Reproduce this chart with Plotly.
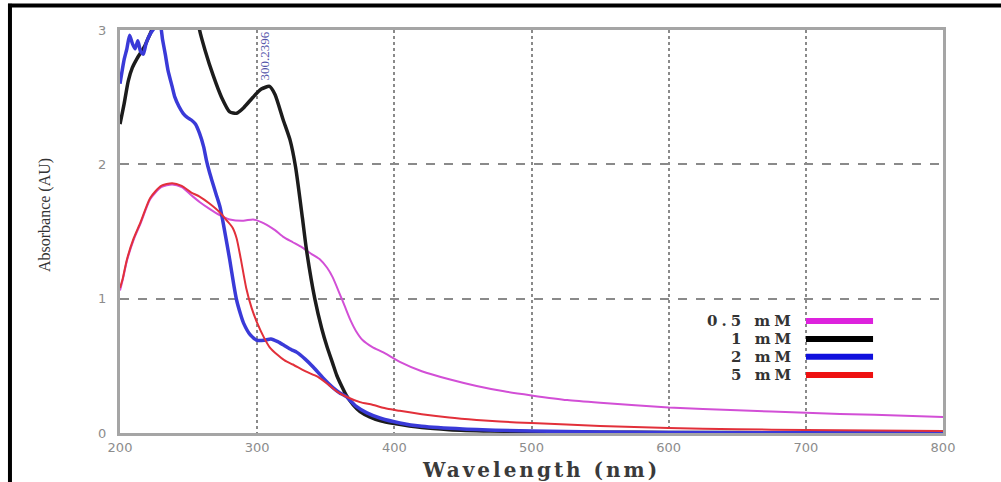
import plotly.graph_objects as go

# ---- data ----
series_names = ["0.5 mM", "1 mM", "2 mM", "5 mM"]

x_05 = [200, 202, 205, 210, 215, 222, 230, 238, 245, 252, 258, 265, 273, 280, 290, 297, 303, 307, 313, 319,
        326, 333, 340, 346, 351, 355, 360, 364, 368, 372, 377, 384, 392, 404, 420, 440, 460, 480, 500, 526,
        550, 600, 650, 700, 750, 800]
y_05 = [1.06, 1.14, 1.28, 1.44, 1.56, 1.74, 1.83, 1.85, 1.83, 1.77, 1.72, 1.67, 1.62, 1.59, 1.58, 1.59, 1.57,
        1.55, 1.51, 1.46, 1.42, 1.38, 1.33, 1.29, 1.23, 1.16, 1.04, 0.94, 0.84, 0.76, 0.69, 0.64, 0.60, 0.53,
        0.46, 0.40, 0.35, 0.31, 0.28, 0.245, 0.225, 0.19, 0.17, 0.15, 0.135, 0.12]

x_1 = [200, 203, 206, 209, 212, 215, 218, 221, 224, 228, 235, 245, 255, 258, 262, 268, 274, 280, 285, 290,
       297, 303, 309, 313, 319, 324, 328, 333, 336, 342, 347, 351, 355, 358, 362, 365, 370, 375, 382, 390,
       400, 420, 440, 470, 500, 550, 600, 700, 800]
y_1 = [2.30, 2.45, 2.62, 2.72, 2.78, 2.83, 2.88, 2.95, 3.02, 3.15, 3.40, 3.50, 3.20, 3.00, 2.85, 2.66, 2.50,
       2.39, 2.38, 2.42, 2.50, 2.56, 2.58, 2.52, 2.33, 2.18, 1.98, 1.60, 1.36, 1.00, 0.78, 0.64, 0.52, 0.43,
       0.34, 0.28, 0.21, 0.16, 0.12, 0.09, 0.07, 0.04, 0.025, 0.015, 0.01, 0.006, 0.004, 0.002, 0.001]

x_2 = [200, 203, 205, 207, 209, 211, 213, 215, 217, 219, 221, 224, 229, 231, 233, 235, 238, 240, 243, 246,
       249, 252, 255, 258, 261, 263, 265, 267, 270, 273, 276, 280, 283, 285, 288, 290, 295, 300, 305, 310,
       315, 320, 325, 329, 335, 341, 348, 355, 360, 365, 372, 380, 390, 404, 420, 450, 500, 550, 600, 700, 800]
y_2 = [2.60, 2.78, 2.86, 2.96, 2.90, 2.86, 2.92, 2.84, 2.82, 2.90, 2.95, 3.00, 3.05, 2.93, 2.82, 2.70, 2.58,
       2.50, 2.43, 2.38, 2.35, 2.33, 2.30, 2.23, 2.13, 2.03, 1.95, 1.88, 1.78, 1.68, 1.52, 1.29, 1.10, 0.99,
       0.88, 0.82, 0.73, 0.69, 0.69, 0.70, 0.68, 0.65, 0.62, 0.60, 0.55, 0.49, 0.41, 0.34, 0.30, 0.27, 0.20,
       0.15, 0.11, 0.075, 0.05, 0.03, 0.015, 0.008, 0.004, 0.002, 0.001]

x_5 = [200, 202, 205, 210, 215, 222, 230, 238, 245, 252, 258, 265, 273, 278, 282, 285, 288, 292, 296, 300,
       305, 309, 315, 320, 326, 335, 344, 352, 358, 365, 375, 384, 395, 404, 420, 440, 460, 477, 500, 550,
       600, 650, 700, 750, 800]
y_5 = [1.08, 1.15, 1.29, 1.45, 1.57, 1.75, 1.84, 1.86, 1.84, 1.79, 1.76, 1.71, 1.64, 1.58, 1.53, 1.45, 1.30,
       1.08, 0.93, 0.82, 0.71, 0.64, 0.58, 0.54, 0.51, 0.46, 0.42, 0.36, 0.31, 0.27, 0.23, 0.21, 0.18, 0.165,
       0.14, 0.115, 0.097, 0.085, 0.074, 0.052, 0.037, 0.028, 0.022, 0.018, 0.015]

x_ticks = [200, 300, 400, 500, 600, 700, 800]
y_ticks = [0, 1, 2, 3]
peak_label = "300.2396"
peak_pos = (305.7, 2.81)

curve_colors = ["#d24fd6", "#1c1c1c", "#3a3ad8", "#e2303a"]
legend_colors = ["#dd22dd", "#000000", "#1010dd", "#ee1111"]
widths = [2, 3.5, 3.5, 2]

fig = go.Figure()
data = [(x_05, y_05), (x_1, y_1), (x_2, y_2), (x_5, y_5)]
for (xs, ys), name, c, w in zip(data, series_names, curve_colors, widths):
    fig.add_trace(go.Scatter(x=xs, y=ys, mode="lines", name=name,
                             line=dict(color=c, width=w, shape="spline", smoothing=0.6),
                             showlegend=False))

axis_common = dict(showline=True, mirror=True, linecolor="#a5a5a5", linewidth=3,
                   zeroline=False, showgrid=True, gridcolor="#8a8a8a", gridwidth=2,
                   tickfont=dict(family="DejaVu Sans", size=13, color="#8c8c8c"),
                   ticks="")

fig.update_xaxes(range=[200, 800], tickvals=x_ticks, griddash="dot", **axis_common)
fig.update_yaxes(range=[0, 3], tickvals=y_ticks, griddash="dash", ticklabelstandoff=8, **axis_common)

annotations = [
    dict(text="<b><span style='letter-spacing:3px'>Wavelength (nm)</span></b>", x=0.512, y=-0.091,
         xref="paper", yref="paper",
         showarrow=False, font=dict(family="DejaVu Serif", size=20, color="#3a3a3a"),
         xanchor="center", yanchor="middle"),
    dict(text="Absorbance (AU)", x=-0.091, y=0.541, xref="paper", yref="paper",
         showarrow=False, textangle=-90, font=dict(family="Liberation Serif", size=16, color="#333333"),
         xanchor="center", yanchor="middle"),
    dict(text=peak_label, x=peak_pos[0], y=peak_pos[1], xref="x", yref="y", showarrow=False,
         textangle=-90, font=dict(family="Liberation Serif", size=13, color="#5555aa"),
         xanchor="center", yanchor="middle"),
]

legend_y = [0.278, 0.233, 0.189, 0.144]
shapes = []
for name, c, ly in zip(series_names, legend_colors, legend_y):
    annotations.append(dict(text="<b><span style='letter-spacing:4px'>" + name + "</span></b>",
                            x=0.823, y=ly, xref="paper", yref="paper",
                            showarrow=False, xanchor="right", yanchor="middle",
                            font=dict(family="DejaVu Serif", size=15, color="#333333")))
    shapes.append(dict(type="line", xref="paper", yref="paper", x0=0.8335, x1=0.915, y0=ly, y1=ly,
                       line=dict(color=c, width=6)))

# black frame (top and left edges of the picture)
shapes.append(dict(type="line", xref="paper", yref="paper", x0=-0.1361, x1=1.08, y0=1.0608, y1=1.0608,
                   line=dict(color="#000000", width=4)))
shapes.append(dict(type="line", xref="paper", yref="paper", x0=-0.1337, x1=-0.1337, y0=1.065, y1=-0.13,
                   line=dict(color="#000000", width=4)))

fig.update_layout(width=1001, height=482, margin=dict(l=120, r=58, t=30, b=49),
                  paper_bgcolor="white", plot_bgcolor="white",
                  annotations=annotations, shapes=shapes, showlegend=False)

fig.write_html("out.html", config={"displayModeBar": False},
               post_script="document.body.style.margin='0px';")
